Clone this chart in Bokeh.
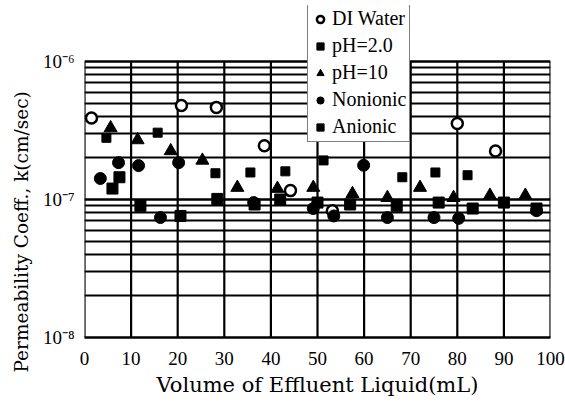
from bokeh.plotting import figure
from bokeh.models import (FixedTicker, CustomJSTickFormatter, Legend, LegendItem, Range1d, Title)
from bokeh.embed import file_html
from bokeh.resources import INLINE

# ---- data ----
di_x = [1.5, 20.8, 28.3, 38.6, 44.2, 53.2, 80.0, 88.2]
di_y = [3.9e-7, 4.8e-7, 4.65e-7, 2.45e-7, 1.16e-7, 8.3e-8, 3.55e-7, 2.25e-7]

ph2_x = [4.7, 15.7, 28.1, 35.6, 43.1, 51.3, 68.2, 75.3, 82.2]
ph2_y = [2.8e-7, 3.05e-7, 1.55e-7, 1.57e-7, 1.6e-7, 1.92e-7, 1.45e-7, 1.57e-7, 1.5e-7]

ph10_x = [5.6, 11.4, 18.5, 25.3, 32.8, 41.4, 49.1, 57.5, 65.0, 72.0, 79.2, 87.0, 94.6]
ph10_y = [3.3e-7, 2.7e-7, 2.25e-7, 1.92e-7, 1.22e-7, 1.2e-7, 1.22e-7, 1.1e-7, 1.03e-7,
          1.22e-7, 1.03e-7, 1.07e-7, 1.07e-7]

non_x = [3.4, 7.3, 11.6, 16.3, 20.2, 36.3, 49.1, 53.5, 59.9, 65.0, 75.0, 80.3, 97.0]
non_y = [1.42e-7, 1.85e-7, 1.76e-7, 7.4e-8, 1.85e-7, 9.5e-8, 8.6e-8, 7.6e-8, 1.77e-7,
         7.4e-8, 7.4e-8, 7.3e-8, 8.3e-8]

ani_x = [6.0, 7.5, 12.0, 20.6, 28.5, 36.5, 42.0, 50.0, 57.0, 67.0, 76.0, 83.3, 90.0, 97.0]
ani_y = [1.2e-7, 1.45e-7, 9.0e-8, 7.6e-8, 1.01e-7, 9.2e-8, 1.0e-7, 9.5e-8, 9.2e-8,
         9.0e-8, 9.5e-8, 8.6e-8, 9.5e-8, 8.6e-8]

x_ticks = [0, 10, 20, 30, 40, 50, 60, 70, 80, 90, 100]
y_major = [1e-8, 1e-7, 1e-6]
y_minor = [m * d for d in (1e-8, 1e-7) for m in range(2, 10)]
y_low, y_high = 1e-8, 1e-6

SERIF = "Liberation Serif"

# the frame is extended above 1e-6 so that the legend can stick out over the plot top
p = figure(width=565, height=402, y_axis_type="log",
           x_range=Range1d(0, 100), y_range=Range1d(y_low, 2.546e-6),
           output_backend="svg", toolbar_location=None,
           min_border_left=84, min_border_right=15, min_border_top=5, min_border_bottom=65)

p.background_fill_color = "white"
p.border_fill_color = "white"
p.outline_line_color = None

# axes
p.xaxis.ticker = FixedTicker(ticks=x_ticks)
p.yaxis.ticker = FixedTicker(ticks=y_major, minor_ticks=y_minor)
p.yaxis.formatter = CustomJSTickFormatter(code="""
const sup = {'-':'\u207b','0':'\u2070','1':'\u00b9','2':'\u00b2','3':'\u00b3','4':'\u2074',
             '5':'\u2075','6':'\u2076','7':'\u2077','8':'\u2078','9':'\u2079'};
const e = Math.round(Math.log10(tick));
return '10' + String(e).split('').map(c => sup[c]).join('');
""")
for ax in (p.xaxis[0], p.yaxis[0]):
    ax.axis_line_color = "black"
    ax.axis_line_width = 2.5
    ax.major_tick_line_color = None
    ax.major_tick_in = 0
    ax.major_tick_out = 0
    ax.minor_tick_line_color = None
    ax.major_label_text_font = SERIF
    ax.major_label_text_font_size = "19px"
    ax.major_label_text_color = "black"
    ax.axis_label_text_font = "DejaVu Serif"
    ax.axis_label_text_font_style = "normal"
    ax.axis_label_text_font_size = "21px"
    ax.axis_label_text_color = "black"
p.yaxis.axis_line_color = None

p.xaxis.axis_label = "Volume of Effluent Liquid(mL)"
p.xaxis.major_label_standoff = 14
p.xaxis.axis_label_standoff = 5
p.yaxis.major_label_standoff = 6

# y title placed as a side title so it can be centred on the real plot area
ytitle = Title(text="Permeability Coeff., k(cm/sec)", align="left", offset=-35,
               standoff=15, text_font="DejaVu Serif", text_font_size="18.5px",
               text_font_style="normal", text_color="black")
p.add_layout(ytitle, "left")

# grid
p.xgrid.visible = False
p.ygrid.grid_line_color = "black"
p.ygrid.grid_line_width = 2.5
p.ygrid.minor_grid_line_color = "black"
p.ygrid.minor_grid_line_width = 1.8

# vertical grid lines / side borders limited to the real plot area
p.segment(x0=x_ticks, y0=[y_low] * len(x_ticks), x1=x_ticks, y1=[y_high] * len(x_ticks),
          line_color="black", line_width=2.2)

# series
r_di = p.scatter(di_x, di_y, marker="circle", size=11, fill_color="white",
                 line_color="black", line_width=2.5)
r_ph2 = p.scatter(ph2_x, ph2_y, marker="square", size=9, fill_color="black",
                  line_color="black")
r_ph10 = p.scatter(ph10_x, ph10_y, marker="triangle", size=13, fill_color="black",
                   line_color="black")
r_non = p.scatter(non_x, non_y, marker="circle", size=12, fill_color="black",
                  line_color="black")
r_ani = p.scatter(ani_x, ani_y, marker="square", size=11, fill_color="black",
                  line_color="black")

legend = Legend(items=[
    LegendItem(label="DI Water", renderers=[r_di]),
    LegendItem(label="pH=2.0", renderers=[r_ph2]),
    LegendItem(label="pH=10", renderers=[r_ph10]),
    LegendItem(label="Nonionic", renderers=[r_non]),
    LegendItem(label="Anionic", renderers=[r_ani]),
], location=(223, 195))
legend.label_text_font = SERIF
legend.label_text_font_size = "20px"
legend.label_text_color = "black"
legend.glyph_width = 18
legend.glyph_height = 22
legend.label_height = 22
legend.label_standoff = 3
legend.spacing = 4
legend.padding = 3
legend.margin = 0
legend.border_line_color = "black"
legend.border_line_width = 1.5
legend.background_fill_color = "white"
legend.background_fill_alpha = 1.0
p.add_layout(legend, "center")

open("out.html", "w").write(file_html(p, INLINE))
